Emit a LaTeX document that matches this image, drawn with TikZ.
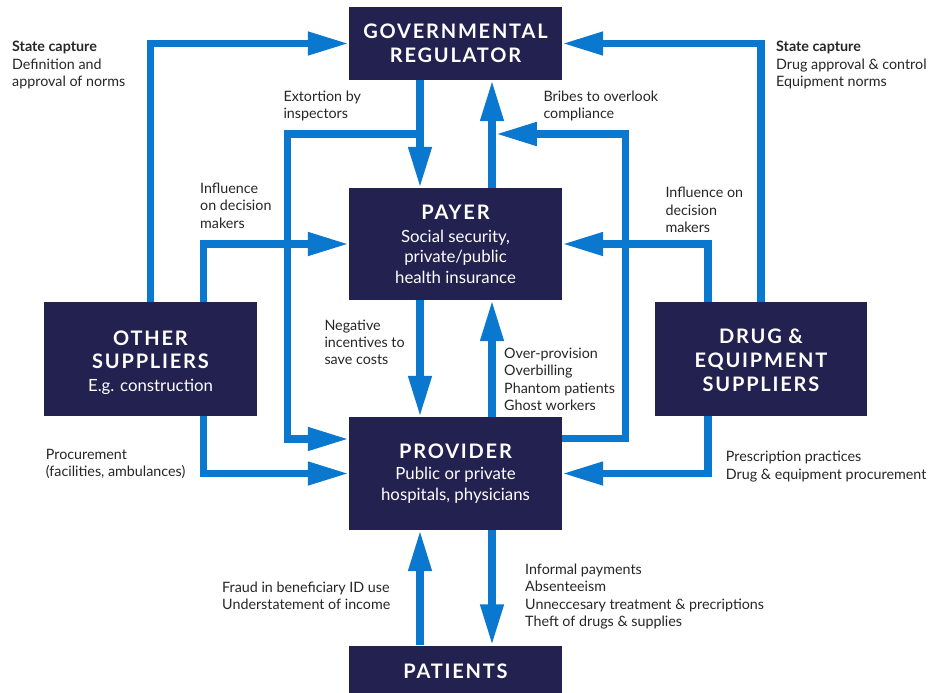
\documentclass[tikz,border=0pt]{standalone}
\usepackage{fontspec}
\setmainfont{Lato}
\newfontfamily\ttlfont[LetterSpace=9]{Lato}
\usetikzlibrary{arrows.meta}
\definecolor{navy}{RGB}{34,33,80}
\definecolor{flow}{RGB}{10,120,207}
\tikzset{
  box/.style={fill=navy, text=white, align=center, inner sep=0pt, minimum width=213pt},
  flowline/.style={draw=flow, line width=7.5pt, line join=miter},
  arr/.style={flowline, -{Triangle[length=41pt,width=22pt]}},
  lbl/.style={anchor=north west, align=left, inner sep=0pt, text=black!85,
    font=\fontsize{14.3}{17.3}\selectfont, execute at begin node={\rule{0pt}{10.5pt}}},
  ttl/.style={font=\ttlfont\bfseries\fontsize{20}{24}\selectfont},
  sub/.style={font=\fontsize{16.8}{20.5}\selectfont}
}
\newcommand{\boxttl}[1]{{\ttlfont\bfseries\fontsize{20}{24}\selectfont #1}}
\begin{document}
\begin{tikzpicture}[x=1pt,y=-1pt]
\fill[white] (0,0) rectangle (929,693);
\useasboundingbox (0,0) rectangle (929,693);

% boxes
\node[box, ttl, minimum height=73pt] (gov) at (455.5,43.5) {GOVERNMENTAL\\REGULATOR};
\node[box, sub, minimum height=112pt] (payer) at (455.5,244)
  {\boxttl{PAYER}\\[2.5pt]Social security,\\private/public\\health insurance};
\node[box, sub, minimum height=113pt] (provider) at (455.5,473.5)
  {\boxttl{PROVIDER}\\[0.5pt]Public or private\\hospitals, physicians};
\node[box, ttl, minimum height=51.5pt] (patients) at (455.5,671.25) {PATIENTS};
\node[box, font=\fontsize{16.8}{23}\selectfont, minimum height=114pt] (other) at (150.5,359)
  {\rule{0pt}{21.5pt}\boxttl{OTHER}\\\boxttl{SUPPLIERS}\\E.g. construction};
\node[box, ttl, minimum width=212pt, minimum height=114pt] (drug) at (761,359)
  {\rule{0pt}{17pt}DRUG \&\\EQUIPMENT\\SUPPLIERS};

% helper coordinates
\coordinate (cL) at (203.5,0);
\coordinate (cA) at (420,0);
\coordinate (cB) at (492,0);
\coordinate (cR) at (708,0);
\coordinate (extS) at (420,134);
\coordinate (extC) at (287.5,134);
\coordinate (extP) at (349,439);
\coordinate (brC) at (625.5,134);
\coordinate (brT) at (495.75,134);
\coordinate (brP) at (562,438.5);

% connectors
\draw[arr] (other.north) |- (gov.west);
\draw[arr] (other.north -| cL) |- (payer.west);
\draw[arr] (gov.south -| cA) -- (payer.north -| cA);
\draw[arr] (extS) -- (extC) |- (provider.west |- extP);
\draw[arr] (payer.north -| cB) -- (gov.south -| cB);
\draw[arr] (provider.east |- brP) -| (brC) -- (brT);
\draw[arr] (drug.north) |- (gov.east);
\draw[arr] (drug.north -| cR) |- (payer.east);
\draw[arr] (payer.south -| cA) -- (provider.north -| cA);
\draw[arr] (provider.north -| cB) -- (payer.south -| cB);
\draw[arr] (other.south -| cL) |- (provider.west);
\draw[arr] (drug.south -| cR) |- (provider.east);
\draw[arr] (patients.north -| cA) -- (provider.south -| cA);
\draw[arr] (provider.south -| cB) -- (patients.north -| cB);

% labels
\node[lbl] (l1) at (12,41.2) {\textbf{State capture}\\Definition and\\approval of norms};
\node[lbl] (l2) at (283.3,90.5) {Extortion by\\inspectors};
\node[lbl] (l3) at (543.3,90.5) {Bribes to overlook\\compliance};
\node[lbl] (l4) at (776,41.2) {\textbf{State capture}\\Drug approval \& control\\Equipment norms};
\node[lbl] (l5) at (200,182.8) {Influence\\on decision\\makers};
\node[lbl] (l6) at (665.3,187.2) {Influence on\\decision\\makers};
\node[lbl] (l7) at (324.3,319.5) {Negative\\incentives to\\save costs};
\node[lbl] (l8) at (504,347.8) {Over-provision\\Overbilling\\Phantom patients\\Ghost workers};
\node[lbl] (l9) at (45.7,448.8) {Procurement\\(facilities, ambulances)};
\node[lbl] (l10) at (725.7,451.2) {Prescription practices\\Drug \& equipment procurement};
\node[lbl] (l11) at (222,581.8) {Fraud in beneficiary ID use\\Understatement of income};
\node[lbl] (l12) at (525,563.8) {Informal payments\\Absenteeism\\Unneccesary treatment \& precriptions\\Theft of drugs \& supplies};
\end{tikzpicture}
\end{document}
